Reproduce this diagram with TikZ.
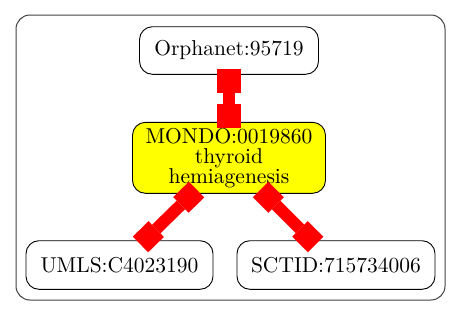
\documentclass[tikz,border=0pt]{standalone}
\usepackage{fontspec}
\setmainfont{lmroman10-regular.otf}
\usetikzlibrary{arrows.meta}
\definecolor{termyellow}{HTML}{FFFF00}
\definecolor{linkred}{HTML}{FF0000}
\begin{document}
\begin{tikzpicture}[x=1pt,y=-1pt,
  term/.style={draw=black, line width=0.9pt, rounded corners=13pt, inner sep=0pt,
    align=center, font=\fontsize{21.5}{20}\selectfont},
  cluster/.style={draw=black!75, line width=1pt, rounded corners=14pt},
  link/.style={draw=linkred, line width=12pt,
    arrows={Rectangle[length=#1,width=#1,line width=0pt]-Rectangle[length=#1,width=#1,line width=0pt]},
    shorten <=-6pt, shorten >=-6pt},
  link/.default=24pt]
  \useasboundingbox (0,0) rectangle (461,316);

  % enclosing cluster
  \draw[cluster] (16,15) rectangle (445,300);

  % terms
  \node[term, minimum width=179pt, minimum height=47.6pt] (orph) at (229,50.5) {Orphanet:95719};
  \node[term, fill=termyellow, minimum width=193pt, minimum height=71pt] (mondo) at (229,157.8)
    {MONDO:0019860\\thyroid\\hemiagenesis};
  \node[term, minimum width=187pt, minimum height=48.6pt] (umls) at (119.5,265) {UMLS:C4023190};
  \node[term, minimum width=198pt, minimum height=48.6pt] (sctid) at (336,265) {SCTID:715734006};

  % cross-references
  \path[link] (orph) -- (mondo);
  \path[link=22pt] (mondo) -- (umls);
  \path[link=22pt] (mondo) -- (sctid);
\end{tikzpicture}
\end{document}
